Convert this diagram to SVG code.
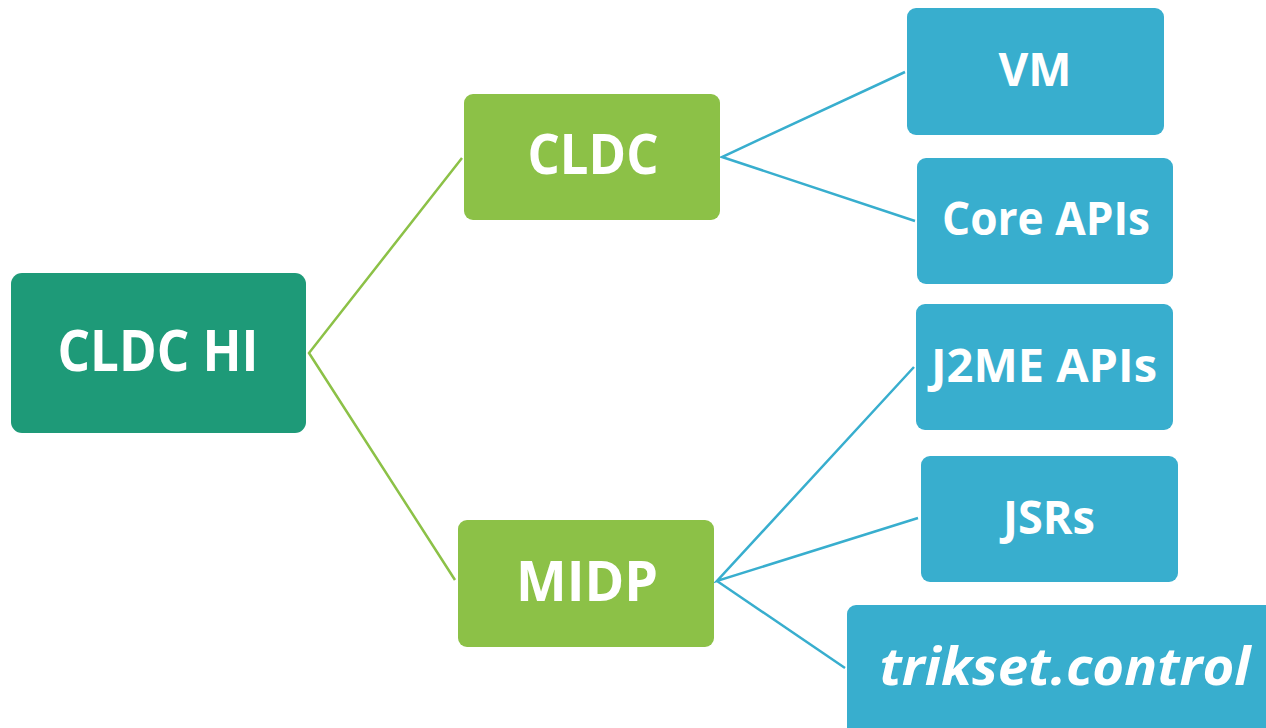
<svg xmlns="http://www.w3.org/2000/svg" width="1266" height="728" viewBox="0 0 1266 728">
  <style>
    .box-root { fill: #1E9A78; }
    .box-mid { fill: #8CC147; }
    .box-leaf { fill: #38AECE; }
    .label { fill: #FFFFFF; font-family: "Open Sans", "Liberation Sans", sans-serif; font-weight: bold; text-anchor: middle; }
    .link-green { stroke: #8CC147; stroke-width: 2.5; fill: none; }
    .link-blue { stroke: #38AECE; stroke-width: 2.5; fill: none; }
  </style>
  <rect width="1266" height="728" fill="#FFFFFF"/>

  <!-- connectors -->
  <g id="connectors">
    <polyline class="link-green" points="462,158 309,353 455,580"/>
    <polyline class="link-blue" points="905,72 722,157 915,221"/>
    <polyline class="link-blue" points="914,367 717,581 918,518"/>
    <line class="link-blue" x1="717" y1="581" x2="845" y2="668"/>
  </g>

  <!-- root -->
  <g id="node-cldc-hi">
    <rect class="box-root" x="11" y="273" width="295" height="160" rx="11"/>
    <text class="label" x="158" y="371" font-size="57" textLength="201" lengthAdjust="spacingAndGlyphs">CLDC HI</text>
  </g>

  <!-- second level -->
  <g id="node-cldc">
    <rect class="box-mid" x="464" y="94" width="256" height="126" rx="9"/>
    <text class="label" x="593" y="174" font-size="55" textLength="131" lengthAdjust="spacingAndGlyphs">CLDC</text>
  </g>
  <g id="node-midp">
    <rect class="box-mid" x="458" y="520" width="256" height="127" rx="9"/>
    <text class="label" x="587" y="601" font-size="55" textLength="142" lengthAdjust="spacingAndGlyphs">MIDP</text>
  </g>

  <!-- leaves -->
  <g id="node-vm">
    <rect class="box-leaf" x="907" y="8" width="257" height="127" rx="9"/>
    <text class="label" x="1035" y="86" font-size="46" textLength="73" lengthAdjust="spacingAndGlyphs">VM</text>
  </g>
  <g id="node-core-apis">
    <rect class="box-leaf" x="917" y="158" width="256" height="126" rx="9"/>
    <text class="label" x="1046" y="235" font-size="46" textLength="208" lengthAdjust="spacingAndGlyphs">Core APIs</text>
  </g>
  <g id="node-j2me-apis">
    <rect class="box-leaf" x="916" y="304" width="257" height="126" rx="9"/>
    <text class="label" x="1044" y="382" font-size="46" textLength="226" lengthAdjust="spacingAndGlyphs">J2ME APIs</text>
  </g>
  <g id="node-jsrs">
    <rect class="box-leaf" x="921" y="456" width="257" height="126" rx="9"/>
    <text class="label" x="1049" y="534" font-size="46" textLength="92" lengthAdjust="spacingAndGlyphs">JSRs</text>
  </g>
  <g id="node-trikset-control">
    <rect class="box-leaf" x="847" y="605" width="440" height="140" rx="9"/>
    <text class="label" x="1065" y="685" font-size="52" font-style="italic" textLength="371" lengthAdjust="spacingAndGlyphs">trikset.control</text>
  </g>
</svg>
